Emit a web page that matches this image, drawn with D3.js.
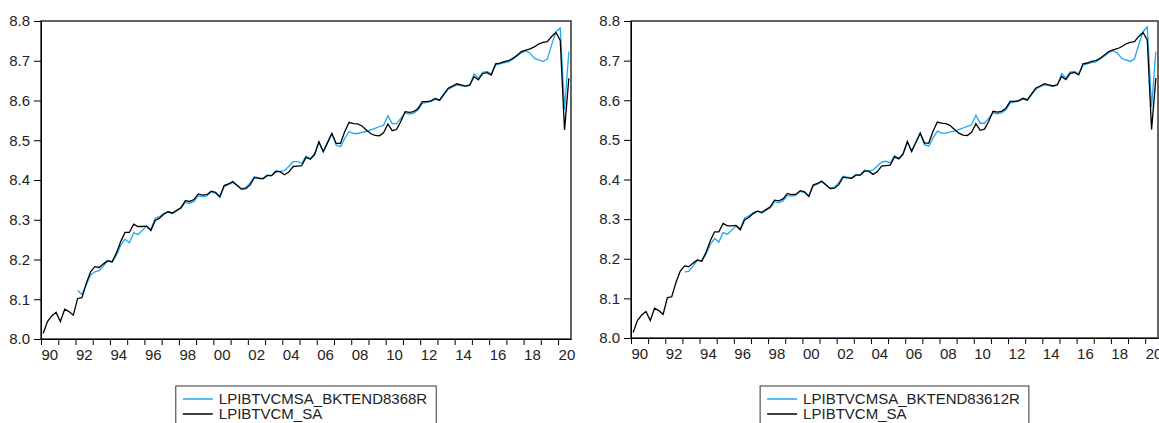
<!DOCTYPE html>
<html>
<head>
<meta charset="utf-8">
<script src="https://cdn.jsdelivr.net/npm/d3@7"></script>
<style>
  body { margin: 0; background: #fff; }
  svg { display: block; font-family: "Liberation Sans", Arial, sans-serif; }
</style>
</head>
<body>
<svg id="chart" width="1159" height="423"></svg>
<script>
// quarterly sample 1990Q1 .. 2020Q3
const startYear = 1990;
const nObs = 123;
const xLabelYears = d3.range(1990, 2021, 2);
const xTickYears = d3.range(1990, 2021);
const yTicks = [8.0, 8.1, 8.2, 8.3, 8.4, 8.5, 8.6, 8.7, 8.8];

const lpibtvcmSa = [
  8.014, 8.044, 8.058, 8.067, 8.044, 8.075, 8.069, 8.060,
  8.102, 8.104, 8.140, 8.169, 8.182, 8.180, 8.189, 8.197,
  8.194, 8.216, 8.245, 8.268, 8.268, 8.289, 8.283, 8.283,
  8.284, 8.273, 8.298, 8.304, 8.314, 8.320, 8.317, 8.324,
  8.331, 8.348, 8.346, 8.351, 8.365, 8.362, 8.363, 8.372,
  8.369, 8.358, 8.386, 8.390, 8.396, 8.387, 8.377, 8.378,
  8.387, 8.406, 8.404, 8.403, 8.411, 8.411, 8.421, 8.421,
  8.413, 8.420, 8.434, 8.435, 8.436, 8.457, 8.452, 8.464,
  8.496, 8.471, 8.494, 8.517, 8.492, 8.492, 8.522, 8.545,
  8.542, 8.541, 8.536, 8.526, 8.517, 8.512, 8.511, 8.519,
  8.541, 8.524, 8.527, 8.547, 8.572, 8.570, 8.572, 8.580,
  8.597, 8.597, 8.599, 8.605, 8.601, 8.616, 8.631, 8.636,
  8.642, 8.639, 8.636, 8.639, 8.660, 8.652, 8.668, 8.670,
  8.664, 8.692, 8.694, 8.698, 8.700, 8.706, 8.714, 8.723,
  8.727, 8.730, 8.735, 8.742, 8.746, 8.748, 8.761, 8.771,
  8.752, 8.526, 8.656
];

// trend series, starts 1992Q1
const bktend8368r = [
  null, null, null, null, null, null, null, null,
  8.122, 8.112, 8.136, 8.161, 8.169, 8.172, 8.184, 8.197,
  8.194, 8.211, 8.236, 8.251, 8.242, 8.267, 8.263, 8.273,
  8.284, 8.276, 8.304, 8.308, 8.316, 8.320, 8.315, 8.322,
  8.328, 8.344, 8.341, 8.346, 8.360, 8.358, 8.360, 8.370,
  8.367, 8.356, 8.383, 8.388, 8.394, 8.386, 8.378, 8.381,
  8.392, 8.408, 8.406, 8.404, 8.413, 8.411, 8.424, 8.421,
  8.424, 8.434, 8.446, 8.446, 8.442, 8.460, 8.454, 8.466,
  8.495, 8.471, 8.494, 8.517, 8.488, 8.484, 8.505, 8.522,
  8.517, 8.517, 8.520, 8.522, 8.526, 8.530, 8.534, 8.538,
  8.562, 8.542, 8.542, 8.555, 8.569, 8.566, 8.568, 8.576,
  8.593, 8.595, 8.598, 8.603, 8.600, 8.614, 8.628, 8.634,
  8.639, 8.637, 8.636, 8.638, 8.667, 8.656, 8.671, 8.673,
  8.667, 8.689, 8.692, 8.695, 8.697, 8.704, 8.712, 8.720,
  8.725, 8.719, 8.706, 8.702, 8.698, 8.704, 8.740, 8.773,
  8.782, 8.578, 8.723
];

// trend series, starts 1993Q1
const bktend83612r = [
  null, null, null, null, null, null, null, null,
  null, null, null, null, 8.167, 8.168, 8.182, 8.196,
  8.194, 8.211, 8.236, 8.251, 8.242, 8.266, 8.262, 8.272,
  8.283, 8.276, 8.303, 8.308, 8.316, 8.320, 8.315, 8.322,
  8.328, 8.344, 8.341, 8.346, 8.360, 8.358, 8.360, 8.370,
  8.367, 8.356, 8.383, 8.388, 8.394, 8.386, 8.378, 8.381,
  8.392, 8.408, 8.406, 8.404, 8.413, 8.411, 8.424, 8.421,
  8.424, 8.434, 8.444, 8.446, 8.442, 8.460, 8.454, 8.466,
  8.495, 8.471, 8.494, 8.517, 8.488, 8.484, 8.505, 8.522,
  8.517, 8.517, 8.520, 8.522, 8.526, 8.530, 8.534, 8.538,
  8.562, 8.542, 8.542, 8.555, 8.569, 8.566, 8.568, 8.576,
  8.593, 8.595, 8.598, 8.603, 8.600, 8.614, 8.628, 8.634,
  8.639, 8.637, 8.636, 8.638, 8.667, 8.656, 8.671, 8.673,
  8.667, 8.689, 8.692, 8.695, 8.697, 8.704, 8.712, 8.720,
  8.725, 8.719, 8.706, 8.702, 8.698, 8.704, 8.740, 8.773,
  8.785, 8.583, 8.723
];

const panels = [
  { left: 41, right: 571, top: 21, bottom: 339, trend: bktend8368r, trendName: 'LPIBTVCMSA_BKTEND8368R' },
  { left: 631, right: 1158, top: 21, bottom: 338, trend: bktend83612r, trendName: 'LPIBTVCMSA_BKTEND83612R' }
];

const blue = '#1fa9f2';
const fontSize = 15;
const svg = d3.select('#chart');

panels.forEach((p) => {
  const g = svg.append('g');

  const x = d3.scaleLinear().domain([0, nObs]).range([p.left, p.right]);
  const y = d3.scaleLinear().domain([8.0, 8.8]).range([p.bottom, p.top]);

  // frame (top / right side)
  g.append('rect')
    .attr('x', p.left)
    .attr('y', p.top)
    .attr('width', p.right - p.left)
    .attr('height', p.bottom - p.top)
    .attr('fill', 'none')
    .attr('stroke', '#333')
    .attr('stroke-width', 1.5);

  // y axis
  const yAxis = d3.axisLeft(y)
    .tickValues(yTicks)
    .tickFormat(d3.format('.1f'))
    .tickSize(7)
    .tickSizeOuter(0)
    .tickPadding(4);
  const gy = g.append('g').attr('transform', `translate(${p.left},0)`).call(yAxis);
  gy.selectAll('text').style('font-size', fontSize + 'px').attr('fill', '#222');

  // x axis: a tick each year, label every 2 years, label starts at tick
  const xAxis = d3.axisBottom(x)
    .tickValues(xTickYears.map((yr) => (yr - startYear) * 4))
    .tickFormat((d) => {
      const yr = startYear + d / 4;
      return xLabelYears.includes(yr) ? String(yr).slice(2) : '';
    })
    .tickSize(6)
    .tickSizeOuter(0)
    .tickPadding(4);
  const gx = g.append('g').attr('transform', `translate(0,${p.bottom})`).call(xAxis);
  gx.selectAll('text')
    .style('font-size', fontSize + 'px')
    .attr('fill', '#222')
    .attr('text-anchor', 'start')
    .attr('x', 0);

  [gx, gy].forEach((a) => {
    a.select('.domain').attr('stroke', '#000');
    a.selectAll('.tick line').attr('stroke', '#000');
  });

  const line = (vals) => d3.line()
    .defined((d) => d != null)
    .x((d, i) => x(i + 0.5))
    .y((d) => y(d))(vals);

  g.append('path')
    .attr('d', line(p.trend))
    .attr('fill', 'none')
    .attr('stroke', blue)
    .attr('stroke-width', 1.3);

  g.append('path')
    .attr('d', line(lpibtvcmSa))
    .attr('fill', 'none')
    .attr('stroke', '#000')
    .attr('stroke-width', 1.3);

  // legend under the plot
  const items = [
    { name: p.trendName, color: blue },
    { name: 'LPIBTVCM_SA', color: '#000' }
  ];
  const lg = svg.append('g');
  const box = lg.append('rect').attr('fill', '#fff').attr('stroke', '#333').attr('stroke-width', 1);
  let maxW = 0;
  items.forEach((it, k) => {
    const cy = 399 + k * 15;
    lg.append('line')
      .attr('x1', 0).attr('x2', 30)
      .attr('y1', cy).attr('y2', cy)
      .attr('stroke', it.color)
      .attr('stroke-width', 1.5);
    const t = lg.append('text')
      .attr('x', 36)
      .attr('y', cy)
      .attr('dy', '0.35em')
      .style('font-size', fontSize + 'px')
      .attr('fill', '#222')
      .text(it.name);
    maxW = Math.max(maxW, t.node().getComputedTextLength());
  });
  const boxW = 36 + maxW + 9 + 7;
  box.attr('x', -7).attr('y', 386).attr('width', boxW).attr('height', 60);
  const cx = (p.left + p.right) / 2;
  lg.attr('transform', `translate(${cx - boxW / 2 + 7},0)`);
});
</script>
</body>
</html>
